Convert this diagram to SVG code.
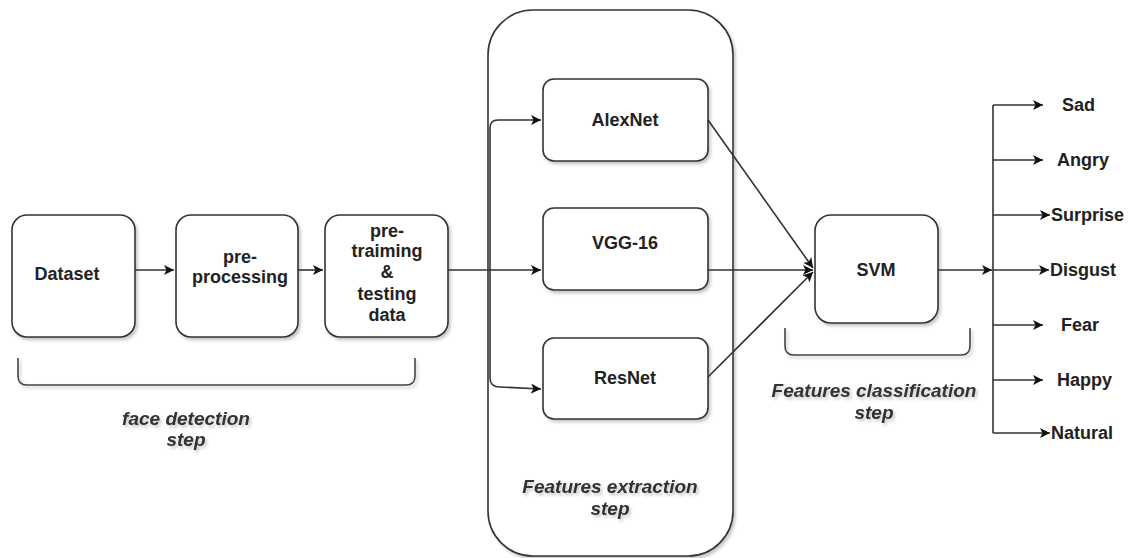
<svg xmlns="http://www.w3.org/2000/svg" width="1133" height="558" viewBox="0 0 1133 558">
<style>
.box{fill:#fff;stroke:#333;stroke-width:1.6;filter:url(#sh)}
.t{font-family:"Liberation Sans",Arial,sans-serif;font-size:18px;font-weight:bold;fill:#222;text-anchor:middle;dominant-baseline:central}
.ts{font-family:"Liberation Sans",Arial,sans-serif;font-size:18px;font-weight:bold;fill:#222;dominant-baseline:central}
.it{font-family:"Liberation Sans",Arial,sans-serif;font-size:19px;font-style:italic;font-weight:bold;fill:#333;text-anchor:middle;dominant-baseline:central;filter:url(#sh)}
.ln{fill:none;stroke:#333;stroke-width:1.6}
.br{fill:none;stroke:#444;stroke-width:1.6}
</style>
<defs>
<filter id="sh" x="-10%" y="-10%" width="130%" height="130%">
<feDropShadow dx="2" dy="2.5" stdDeviation="1.5" flood-color="#000" flood-opacity="0.22"/>
</filter>
<marker id="ah" viewBox="0 0 10 10" refX="10" refY="5" markerWidth="10" markerHeight="10" markerUnits="userSpaceOnUse" orient="auto">
<path d="M0,0 L10,5 L0,10 L2.5,5 Z" fill="#111"/>
</marker>
</defs>
<rect width="1133" height="558" fill="#fff"/>

<g id="container">
<rect class="box" x="488" y="10" width="245" height="546" rx="45"/>
<text class="it" x="610" y="486">Features extraction</text>
<text class="it" x="610" y="508">step</text>
</g>

<g id="dataset">
<rect class="box" x="12" y="215" width="123" height="122" rx="15"/>
<text class="t" x="67" y="274">Dataset</text>
</g>
<g id="preprocessing">
<rect class="box" x="176" y="215" width="122" height="122" rx="15"/>
<text class="t" x="240" y="257">pre-</text>
<text class="t" x="240" y="277">processing</text>
</g>
<g id="pretraining">
<rect class="box" x="325" y="215" width="123" height="122" rx="15"/>
<text class="t" x="387" y="231">pre-</text>
<text class="t" x="387" y="251">traiming</text>
<text class="t" x="387" y="272">&amp;</text>
<text class="t" x="387" y="294">testing</text>
<text class="t" x="387" y="315">data</text>
</g>

<g id="face-detection-step">
<path class="br" d="M18,358 V376 Q18,385 27,385 H406 Q415,385 415,376 V358" filter="url(#sh)"/>
<text class="it" x="186" y="418">face detection</text>
<text class="it" x="186" y="439">step</text>
</g>

<g id="alexnet">
<rect class="box" x="543" y="79" width="165" height="82" rx="11"/>
<text class="t" x="625" y="120">AlexNet</text>
</g>
<g id="vgg16">
<rect class="box" x="543" y="208" width="165" height="82" rx="11"/>
<text class="t" x="625" y="243">VGG-16</text>
</g>
<g id="resnet">
<rect class="box" x="543" y="338" width="165" height="81" rx="11"/>
<text class="t" x="625" y="378">ResNet</text>
</g>

<g id="svm">
<rect class="box" x="815" y="215" width="123" height="108" rx="16"/>
<text class="t" x="876" y="270">SVM</text>
</g>

<g id="classification-step">
<path class="br" d="M785,328 V346 Q785,355 794,355 H961 Q970,355 970,346 V328" filter="url(#sh)"/>
<text class="it" x="874" y="390">Features classification</text>
<text class="it" x="874" y="412">step</text>
</g>

<g id="labels">
<text class="ts" x="1062" y="105">Sad</text>
<text class="ts" x="1057" y="160">Angry</text>
<text class="ts" x="1051" y="215">Surprise</text>
<text class="ts" x="1050" y="270">Disgust</text>
<text class="ts" x="1061" y="325">Fear</text>
<text class="ts" x="1057" y="380">Happy</text>
<text class="ts" x="1051" y="433">Natural</text>
</g>

<g id="connectors">
<line class="ln" x1="135" y1="270" x2="174" y2="270" marker-end="url(#ah)"/>
<line class="ln" x1="298" y1="270" x2="323" y2="270" marker-end="url(#ah)"/>
<line class="ln" x1="448" y1="270" x2="541" y2="270" marker-end="url(#ah)"/>
<path class="ln" d="M490,270 V128 Q490,120 498,120 H541" marker-end="url(#ah)"/>
<path class="ln" d="M490,270 V378 Q490,387 500,387 L541,389" marker-end="url(#ah)"/>
<line class="ln" x1="708" y1="120" x2="813" y2="268" marker-end="url(#ah)"/>
<line class="ln" x1="708" y1="270" x2="813" y2="270" marker-end="url(#ah)"/>
<line class="ln" x1="708" y1="377" x2="813" y2="272" marker-end="url(#ah)"/>
<line class="ln" x1="938" y1="270" x2="992" y2="270" marker-end="url(#ah)"/>
<path class="ln" d="M993,433 V105"/>
<line class="ln" x1="993" y1="105" x2="1043" y2="105" marker-end="url(#ah)"/>
<line class="ln" x1="993" y1="160" x2="1043" y2="160" marker-end="url(#ah)"/>
<line class="ln" x1="993" y1="215" x2="1050" y2="215" marker-end="url(#ah)"/>
<line class="ln" x1="993" y1="270" x2="1049" y2="270" marker-end="url(#ah)"/>
<line class="ln" x1="993" y1="325" x2="1043" y2="325" marker-end="url(#ah)"/>
<line class="ln" x1="993" y1="380" x2="1043" y2="380" marker-end="url(#ah)"/>
<line class="ln" x1="993" y1="433" x2="1050" y2="433" marker-end="url(#ah)"/>
</g>
</svg>
